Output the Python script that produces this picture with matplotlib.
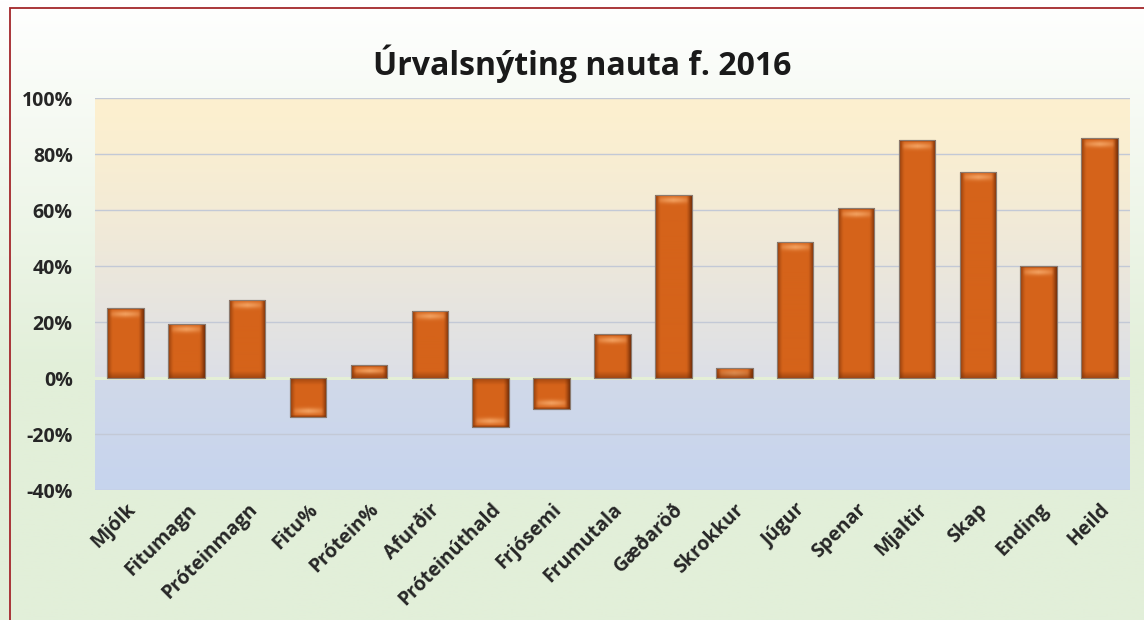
import numpy as np
import matplotlib
matplotlib.use("Agg")
import matplotlib.pyplot as plt
from matplotlib.patches import Rectangle
from matplotlib.colors import to_rgb

categories = ["Mjólk", "Fitumagn", "Próteinmagn", "Fitu%", "Prótein%", "Afurðir",
              "Próteinúthald", "Frjósemi", "Frumutala", "Gæðaröð", "Skrokkur", "Júgur",
              "Spenar", "Mjaltir", "Skap", "Ending", "Heild"]
values = [25.0, 19.3, 27.9, -13.9, 4.6, 24.0, -17.5, -11.0, 15.7, 65.4, 3.6, 48.6,
          60.7, 85.0, 73.6, 40.0, 85.7]
yticks = [-40, -20, 0, 20, 40, 60, 80, 100]
title = "Úrvalsnýting nauta f. 2016"

plt.rcParams['font.family'] = ['Open Sans', 'DejaVu Sans']

W, H = 1144, 620
fig = plt.figure(figsize=(W / 100, H / 100), dpi=100)

# figure background gradient (white -> light green)
bg = fig.add_axes([0, 0, 1, 1], zorder=-10)
bg.axis('off')
g = np.linspace(0, 1, 256)[:, None]
top_c = np.array(to_rgb('#ffffff'))
bot_c = np.array(to_rgb('#e2efd9'))
grad = np.clip((g - 0.0) / 0.6, 0, 1)
img = top_c[None, None, :] * (1 - grad[..., None]) + bot_c[None, None, :] * grad[..., None]
img = np.repeat(img, 2, axis=1)
bg.imshow(img, aspect='auto', extent=(0, 1, 0, 1), origin='upper')
bg.set_xlim(0, 1); bg.set_ylim(0, 1)
bg.add_patch(Rectangle((9.5 / W, -0.1), 1.2, (H - 8.5) / H + 0.1, transform=bg.transAxes,
                       fill=False, edgecolor='#a3262a', linewidth=1.3))

ax = fig.add_axes([95 / W, 1 - 490 / H, (1130 - 95) / W, (490 - 98) / H])
ymin, ymax = -40, 100
n = len(categories)
x = np.arange(n)
ax.set_xlim(-0.5, n - 0.5)
ax.set_ylim(ymin, ymax)

# plot area background gradient
ny = 400
yy = np.linspace(ymax, ymin, ny)
cream = np.array(to_rgb('#fdf0cf'))
grey0 = np.array(to_rgb('#dcdfe7'))
blue0 = np.array(to_rgb('#d1d9e9'))
blue1 = np.array(to_rgb('#c6d4ee'))
rows = []
for v in yy:
    if v >= 0:
        t = 1 - v / ymax
        t = t ** 1.3
        rows.append(cream * (1 - t) + grey0 * t)
    else:
        t = v / ymin
        rows.append(blue0 * (1 - t) + blue1 * t)
pimg = np.array(rows)[:, None, :].repeat(2, axis=1)
ax.imshow(pimg, aspect='auto', extent=(-0.5, n - 0.5, ymin, ymax), origin='upper', zorder=0)

ax.set_yticks(yticks)
ax.set_yticklabels([f"{t}%" for t in yticks])
for t in yticks:
    if t == 0:
        continue
    ax.axhline(t, color='#c3c9d6', linewidth=1.0, zorder=1)
ax.axhline(0, color='#e4efd6', linewidth=2.2, zorder=1)

for s in ax.spines.values():
    s.set_visible(False)
ax.tick_params(axis='both', length=0)
ax.tick_params(axis='y', pad=16, labelsize=14, labelcolor='#262626')
ax.set_xticks(x)
ax.set_xticklabels(categories, rotation=45, ha='right', va='top', rotation_mode='anchor',
                   fontsize=14, fontweight='bold', color='#262626')
ax.tick_params(axis='x', pad=7)
for lab in ax.get_yticklabels():
    lab.set_fontweight('bold')

bars = ax.bar(x, values, width=0.6, color='#d2601a', edgecolor='#8a7a70', linewidth=0.8, zorder=2)

# bevel shading for each bar
fig.canvas.draw()
base = np.array(to_rgb('#d5631a'))
dark = np.array(to_rgb('#6e2a05'))
light = np.array(to_rgb('#f6a868'))
for b in bars:
    bb = b.get_window_extent()
    wpx = max(int(round(bb.width)), 4)
    hpx = max(int(round(bb.height)), 4)
    xs = np.arange(wpx) + 0.5
    edge = np.minimum(xs, wpx - xs)
    hx = np.clip(1 - edge / 6.0, 0, 1) ** 1.4  # darkness near left/right
    hx_right = np.where(xs > wpx / 2, 1.15, 0.85)
    hx = np.clip(hx * hx_right, 0, 1)
    ys = np.arange(hpx) + 0.5
    # top highlight band
    hl = np.exp(-((ys - 6.0) / 3.2) ** 2) * 0.85
    dtop = np.clip(1 - ys / 2.5, 0, 1) * 0.6
    dbot = np.clip(1 - (hpx - ys) / 7.0, 0, 1) * 0.5
    img = np.zeros((hpx, wpx, 3))
    hmask = np.clip(1 - np.abs(xs - wpx / 2) / (wpx / 2 - 3), 0, 1) ** 0.4
    for i in range(hpx):
        row = base[None, :] * np.ones((wpx, 1))
        row = row * (1 - hl[i] * hmask[:, None]) + light[None, :] * (hl[i] * hmask[:, None])
        dv = max(dtop[i], dbot[i])
        row = row * (1 - dv) + dark[None, :] * dv
        row = row * (1 - hx[:, None] * 0.85) + dark[None, :] * (hx[:, None] * 0.85)
        img[i] = row
    x0, y0 = b.get_x(), b.get_y()
    w, h = b.get_width(), b.get_height()
    im = ax.imshow(np.clip(img, 0, 1), extent=(x0, x0 + w, y0, y0 + h), origin='upper',
                   aspect='auto', zorder=2.5, interpolation='bilinear')
    im.set_clip_path(b)
    ax.add_patch(Rectangle((x0, y0), w, h, fill=False, edgecolor='#8a7a70', linewidth=0.8, zorder=3))

ax.set_xlim(-0.5, n - 0.5)
ax.set_ylim(ymin, ymax)

fig.text(582 / W, 1 - 64 / H, title, ha='center', va='center', fontsize=23,
         fontweight='bold', color='#1a1a1a')

fig.savefig('out.png', dpi=100)
